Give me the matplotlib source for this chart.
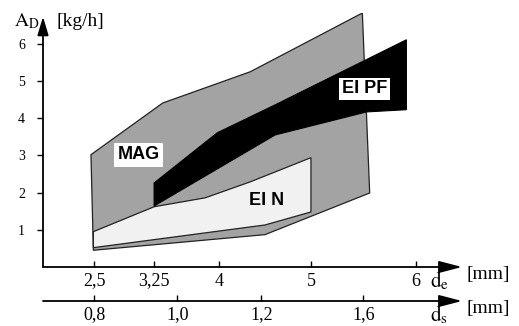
import numpy as np
import matplotlib
matplotlib.use("Agg")
import matplotlib.pyplot as plt

plt.rcParams['font.family'] = ['Liberation Serif', 'DejaVu Serif']
plt.rcParams['mathtext.fontset'] = 'stix'

# electrode diameter d_e [mm] ticks and where they sit on the (non-linear) axis
DE_TICKS = [2.5, 3.25, 4, 5, 6]
DE_TICK_LABELS = ['2,5', '3,25', '4', '5', '6']
DE_POS = [94, 154, 219, 311, 416]

# wire diameter d_s [mm] ticks, given as the d_e value they line up with
DS_TICKS = [0.8, 1.0, 1.2, 1.6]
DS_TICK_LABELS = ['0,8', '1,0', '1,2', '1,6']
DS_AT_DE = [2.5, 3.52, 4.46, 5.5]

A_TICKS = [1, 2, 3, 4, 5, 6]

# deposition rate A_D [kg/h] ranges, outlines as (d_e, A_D)
mag_de = [2.46, 3.35, 4.34, 5.49, 5.56, 4.50, 2.49]
mag_ad = [3.02, 4.41, 5.25, 6.83, 1.99, 0.87, 0.45]

ein_de = [2.49, 3.25, 3.84, 4.34, 5.0, 5.0, 4.5, 2.49]
ein_ad = [0.95, 1.62, 1.86, 2.29, 2.94, 1.48, 1.13, 0.52]

eipf_de = [3.25, 3.98, 4.61, 5.91, 5.91, 5.53, 4.61, 3.25]
eipf_ad = [2.26, 3.61, 4.36, 6.11, 4.23, 4.17, 3.55, 1.64]


def lin_interp(x, xp, fp):
    # piecewise linear with linear extrapolation at both ends
    x = np.asarray(x, dtype=float)
    xp = np.asarray(xp, dtype=float)
    fp = np.asarray(fp, dtype=float)
    y = np.interp(x, xp, fp)
    lo = x < xp[0]
    hi = x > xp[-1]
    y = np.where(lo, fp[0] + (x - xp[0]) * (fp[1] - fp[0]) / (xp[1] - xp[0]), y)
    y = np.where(hi, fp[-1] + (x - xp[-1]) * (fp[-1] - fp[-2]) / (xp[-1] - xp[-2]), y)
    return y


def de_to_pos(x):
    return lin_interp(x, DE_TICKS, DE_POS)


def pos_to_de(p):
    return lin_interp(p, DE_POS, DE_TICKS)


W, H = 519, 326
x0, x1 = 1.86, 6.44
arrow_h = dict(arrowstyle='-|>,head_length=1.0,head_width=0.26', mutation_scale=14,
               lw=1.3, color='black', shrinkA=0, shrinkB=0)

fig = plt.figure(figsize=(W / 100, H / 100), dpi=100)
ax = fig.add_axes([43 / W, (H - 267) / H, (462 - 43) / W, (267 - 13) / H])
ax.set_xscale('function', functions=(de_to_pos, pos_to_de))
ax.set_xlim(x0, x1)
ax.set_ylim(0, 6.83)

ax.fill(mag_de, mag_ad, facecolor='#a3a3a3', edgecolor='#222222', lw=0.9, zorder=2)
ax.fill(ein_de, ein_ad, facecolor='#f1f1f1', edgecolor='#222222', lw=0.9, zorder=3)
ax.fill(eipf_de, eipf_ad, facecolor='black', edgecolor='black', lw=0.8, zorder=4)

lab = dict(family='Liberation Sans', weight='bold', fontsize=13, ha='center', va='center', zorder=6)
ax.text(3.06, 3.02, 'MAG', bbox=dict(facecolor='white', edgecolor='none', pad=2.5), **lab)
ax.text(5.51, 4.79, 'EI PF', bbox=dict(facecolor='white', edgecolor='none', pad=2.0), **lab)
ax.text(4.52, 1.78, 'EI N', **lab)

for s in ax.spines.values():
    s.set_visible(False)

# axes drawn as arrows
ax.annotate('', xy=(x1, 0), xytext=(x0, 0), annotation_clip=False, arrowprops=arrow_h, zorder=7)
ax.annotate('', xy=(x0, 6.73), xytext=(x0, 0), annotation_clip=False,
            arrowprops=dict(arrowstyle='-|>,head_length=0.8,head_width=0.24', mutation_scale=14,
                            lw=1.3, color='black', shrinkA=0, shrinkB=0), zorder=7)

ax.set_xticks(DE_TICKS)
ax.set_xticklabels(DE_TICK_LABELS)
ax.tick_params(axis='x', direction='in', length=4, width=1.0, pad=4, labelsize=13)
ax.set_yticks(A_TICKS)
ax.tick_params(axis='y', direction='out', length=4, width=1.0, pad=9, labelsize=10)

# second scale for d_s below, same d_e mapping
ax2 = fig.add_axes([43 / W, (H - 301) / H, (462 - 43) / W, 0.001])
ax2.set_xscale('function', functions=(de_to_pos, pos_to_de))
ax2.set_xlim(x0, x1)
ax2.set_ylim(0, 1)
ax2.patch.set_visible(False)
for s in ax2.spines.values():
    s.set_visible(False)
ax2.set_yticks([])
ax2.set_xticks(DS_AT_DE)
ax2.set_xticklabels(DS_TICK_LABELS)
ax2.tick_params(axis='x', direction='in', length=4, width=1.0, pad=4, labelsize=13)
ax2.annotate('', xy=(x1, 0), xytext=(x0, 0), annotation_clip=False, arrowprops=arrow_h)

# axis titles
fig.text(14 / W, 1 - 21 / H, r'$\mathrm{A}_\mathrm{D}$', fontsize=14, va='center', ha='left')
fig.text(57 / W, 1 - 21 / H, '[kg/h]', fontsize=14, va='center', ha='left')
fig.text(430 / W, 1 - 281 / H, r'$\mathrm{d}_\mathrm{e}$', fontsize=15, va='center', ha='left')
fig.text(466 / W, 1 - 275 / H, '[mm]', fontsize=14, va='center', ha='left')
fig.text(430 / W, 1 - 315 / H, r'$\mathrm{d}_\mathrm{s}$', fontsize=15, va='center', ha='left')
fig.text(466 / W, 1 - 308 / H, '[mm]', fontsize=14, va='center', ha='left')

fig.savefig('out.png', dpi=100, facecolor='white')
